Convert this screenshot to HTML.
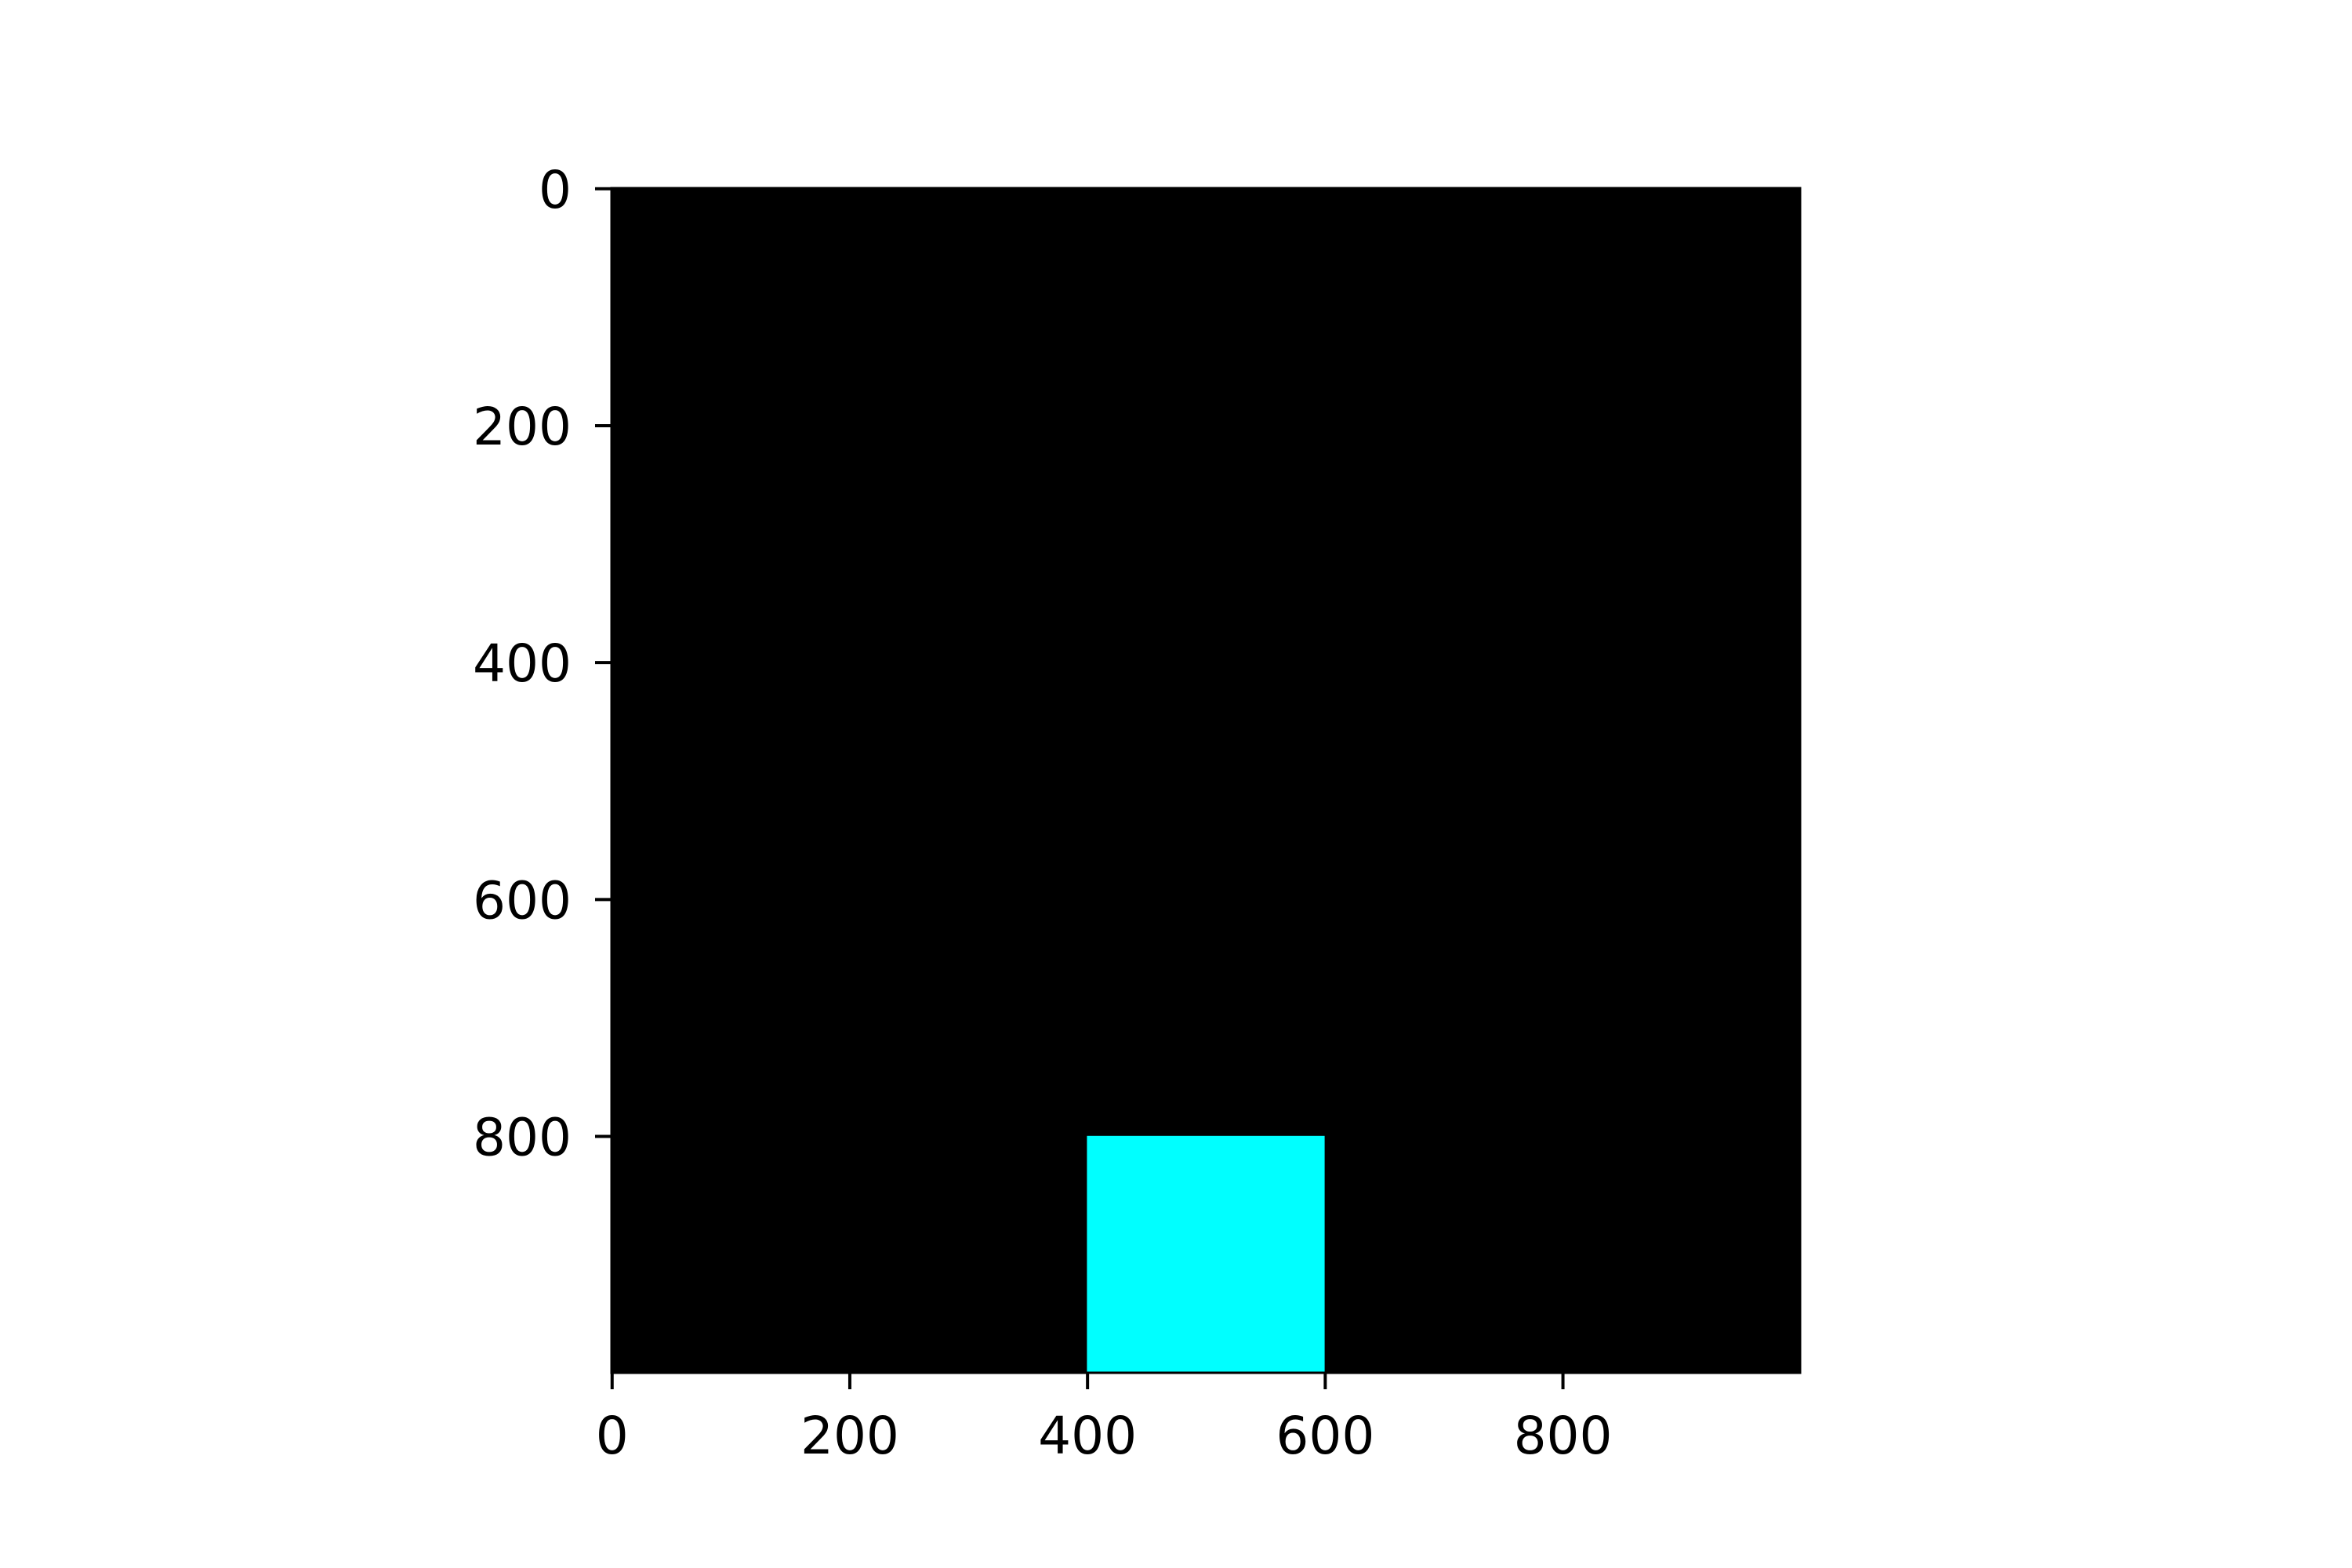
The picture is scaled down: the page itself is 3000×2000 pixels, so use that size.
<!DOCTYPE html>
<html><head><meta charset="utf-8"><style>
html,body{margin:0;padding:0;background:#fff;width:3000px;height:2000px;overflow:hidden}
text{font-family:"DejaVu Sans","Liberation Sans",sans-serif;font-size:66px;fill:#000}
</style></head><body>
<svg id="chart" width="3000" height="2000" viewBox="0 0 3000 2000"></svg>
<script>
// data
const imageSize = [1000, 1000];          // image width, height in pixels
const bgColor = ["#000000"];
const patchX = [400, 600];               // cyan patch column range
const patchY = [800, 1000];              // cyan patch row range
const patchColor = ["#00ffff"];
const xTicks = [0, 200, 400, 600, 800];
const yTicks = [0, 200, 400, 600, 800];

const NS = "http://www.w3.org/2000/svg";
const svg = document.getElementById('chart');
const L = 780, T = 240, W = 1516, H = 1511;
const sx = v => L + (v + 0.5) / imageSize[0] * W;
const sy = v => T + (v + 0.5) / imageSize[1] * H;
function mk(tag, attrs){const e=document.createElementNS(NS,tag);for(const k in attrs)e.setAttribute(k,attrs[k]);svg.appendChild(e);return e;}

const bg = mk('rect',{x:sx(-0.5),y:sy(-0.5),width:sx(imageSize[0]-0.5)-sx(-0.5),height:sy(imageSize[1]-0.5)-sy(-0.5),fill:bgColor[0]});



const p = mk('rect',{x:sx(patchX[0]-0.5),y:sy(patchY[0]-0.5),width:sx(patchX[1]-0.5)-sx(patchX[0]-0.5),height:sy(patchY[1]-0.5)-sy(patchY[0]-0.5),fill:patchColor[0]});



const frame = mk('rect',{x:L,y:T,width:W,height:H,fill:'none',stroke:'#000','stroke-width':3});



xTicks.forEach(v=>{
  const x = sx(v);
  const t = mk('line',{x1:x,x2:x,y1:T+H,y2:T+H+21,stroke:'#000','stroke-width':4});
  
  
  const lb = mk('text',{x:x,y:T+H+103,'text-anchor':'middle'});
  lb.textContent = v;
  
  
});
yTicks.forEach(v=>{
  const y = sy(v);
  const t = mk('line',{x1:L-21,x2:L,y1:y,y2:y,stroke:'#000','stroke-width':4});
  
  
  const lb = mk('text',{x:L-51,y:y+24,'text-anchor':'end'});
  lb.textContent = v;
  
  
});
</script>
</body></html>
